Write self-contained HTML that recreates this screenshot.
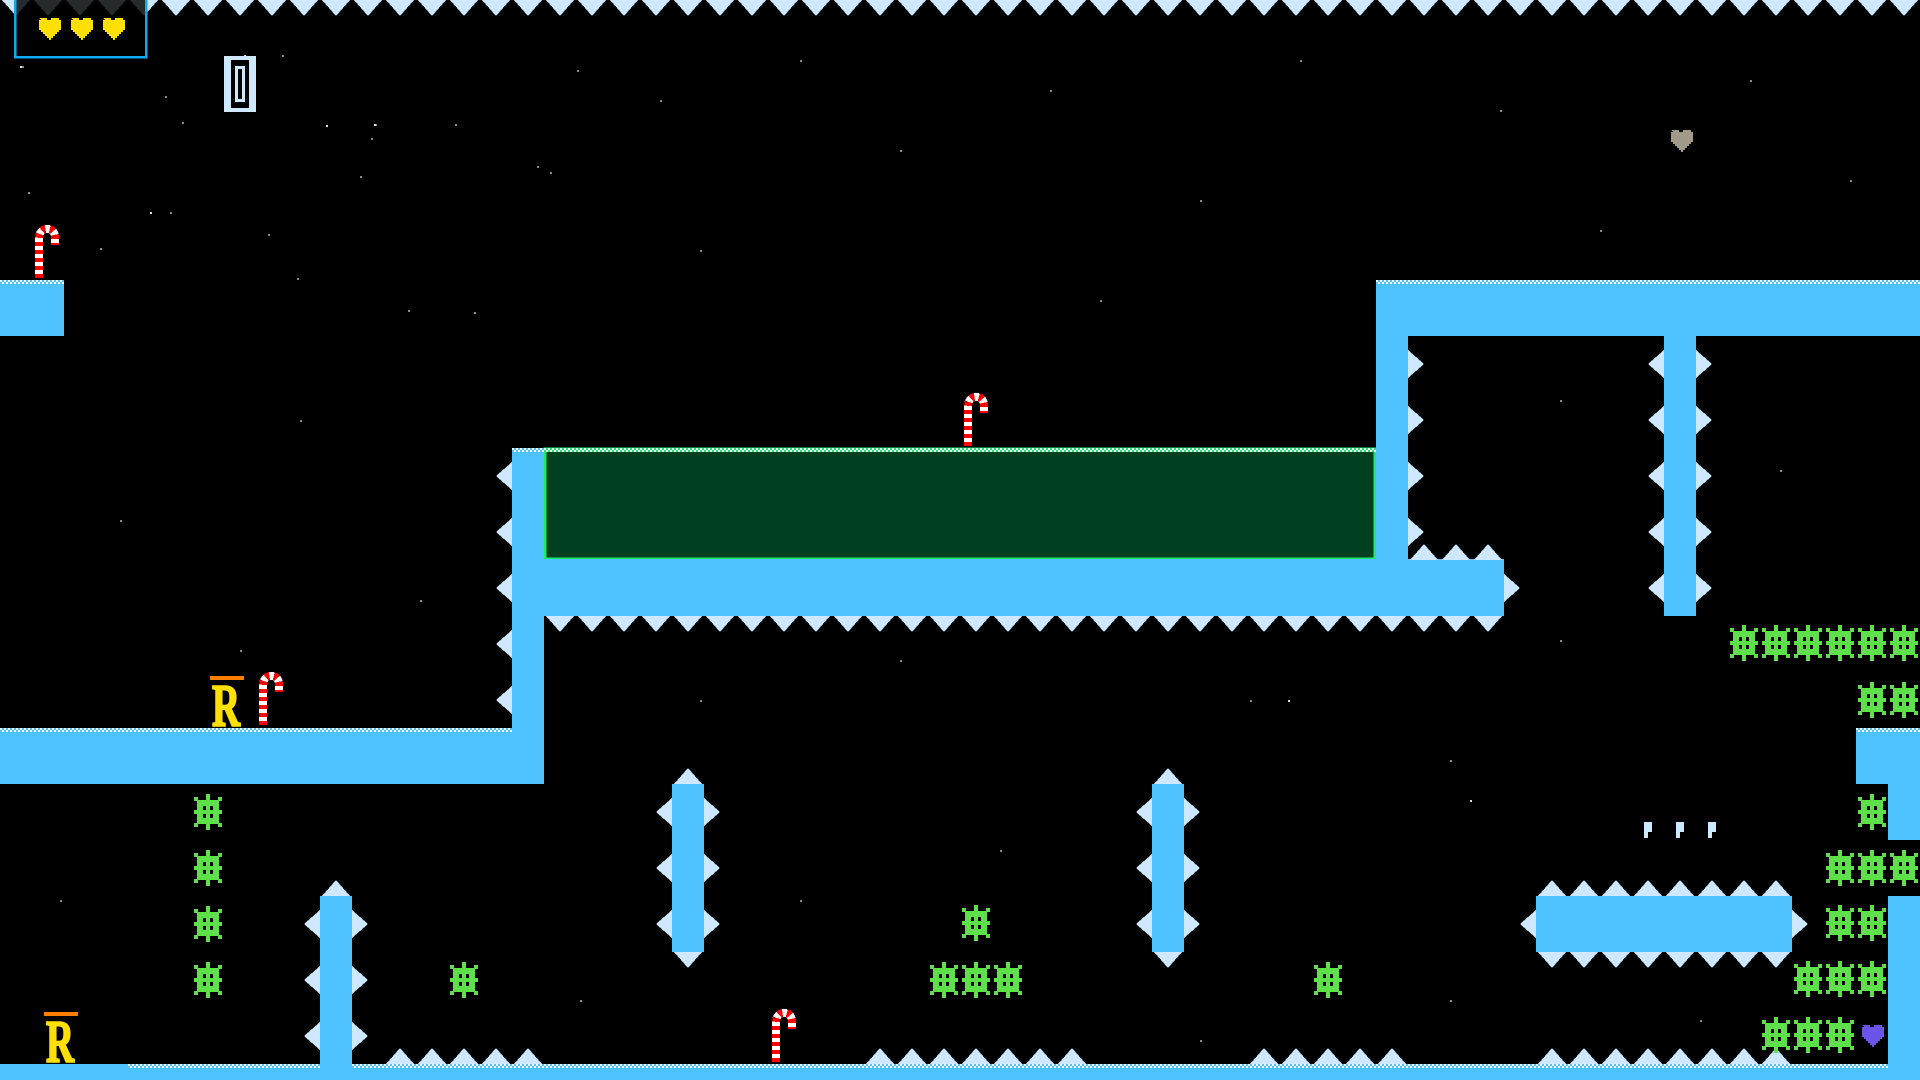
<!DOCTYPE html>
<html><head><meta charset="utf-8"><style>
html,body{margin:0;padding:0;background:#000;width:1920px;height:1080px;overflow:hidden}
svg{display:block}
</style></head><body>
<svg width="1920" height="1080" viewBox="0 0 1920 1080" xmlns="http://www.w3.org/2000/svg" shape-rendering="crispEdges">
<defs>
<pattern id="pd" width="32" height="16" patternUnits="userSpaceOnUse"><polygon points="2,0 30,0 16,16" fill="#cde8ff"/></pattern>
<pattern id="pu" width="32" height="16" patternUnits="userSpaceOnUse"><polygon points="2,16 16,0 30,16" fill="#cde8ff"/></pattern>
<pattern id="ck" width="4" height="4" patternUnits="userSpaceOnUse"><rect width="4" height="4" fill="#4fc3ff"/><rect width="2" height="2" fill="#f2fbff"/><rect x="2" y="2" width="2" height="2" fill="#f2fbff"/></pattern>
<pattern id="ckg" width="4" height="4" patternUnits="userSpaceOnUse"><rect width="4" height="4" fill="#1eea6a"/><rect width="2" height="2" fill="#f2fff6"/><rect x="2" y="2" width="2" height="2" fill="#f2fff6"/></pattern>
<polygon id="sr" points="0,-14 16,0 0,14" fill="#cde8ff"/>
<polygon id="sl" points="0,-14 -16,0 0,14" fill="#cde8ff"/>
<polygon id="su" points="-14,0 0,-16 14,0" fill="#cde8ff"/>
<polygon id="sd" points="-14,0 0,16 14,0" fill="#cde8ff"/>
<g id="g" fill="#5ee04a">
<rect x="-2" y="-18" width="4" height="36"/>
<rect x="-14" y="-2" width="28" height="4"/>
<path d="M-11,-12H11V12H-11Z M-5,-6V6H5V-6Z" fill-rule="evenodd"/>
<rect x="-14" y="-15" width="4" height="4"/><rect x="10" y="-15" width="4" height="4"/>
<rect x="-14" y="11" width="4" height="4"/><rect x="10" y="11" width="4" height="4"/>
</g>
<g id="cane" fill="none" stroke-linecap="butt">
<path d="M9,52 V14 Q9,3 17,3 Q25,3 25,12 V19" stroke="#fff" stroke-width="8"/>
<path d="M9,52 V14 Q9,3 17,3 Q25,3 25,12 V19" stroke="#f00" stroke-width="8" stroke-dasharray="4 4"/>
</g>
<path id="heart" d="M2,0h8v2h4v-2h8v2h2v10h-2v2h-2v2h-2v2h-2v2h-2v2h-2v-2h-2v-2h-2v-2h-2v-2h-2v-2h-2v-10h2z"/>
</defs>

<g fill="#888">
<rect x="22" y="66" width="2" height="2"/><rect x="165" y="96" width="2" height="2"/><rect x="182" y="122" width="2" height="2"/><rect x="282" y="55" width="2" height="2"/><rect x="375" y="124" width="2" height="2"/><rect x="371" y="138" width="2" height="2"/><rect x="455" y="124" width="2" height="2"/><rect x="537" y="166" width="2" height="2"/><rect x="550" y="172" width="2" height="2"/><rect x="577" y="70" width="2" height="2"/><rect x="360" y="176" width="2" height="2"/><rect x="170" y="212" width="2" height="2"/><rect x="28" y="192" width="2" height="2"/><rect x="100" y="248" width="2" height="2"/><rect x="268" y="234" width="2" height="2"/><rect x="297" y="278" width="2" height="2"/><rect x="408" y="310" width="2" height="2"/><rect x="474" y="312" width="2" height="2"/><rect x="660" y="100" width="2" height="2"/><rect x="800" y="60" width="2" height="2"/><rect x="900" y="150" width="2" height="2"/><rect x="1050" y="90" width="2" height="2"/><rect x="1200" y="200" width="2" height="2"/><rect x="1300" y="60" width="2" height="2"/><rect x="1500" y="110" width="2" height="2"/><rect x="1600" y="230" width="2" height="2"/><rect x="1750" y="80" width="2" height="2"/><rect x="1850" y="180" width="2" height="2"/><rect x="700" y="250" width="2" height="2"/><rect x="1100" y="300" width="2" height="2"/><rect x="300" y="420" width="2" height="2"/><rect x="120" y="520" width="2" height="2"/><rect x="420" y="600" width="2" height="2"/><rect x="240" y="650" width="2" height="2"/><rect x="700" y="700" width="2" height="2"/><rect x="900" y="660" width="2" height="2"/><rect x="1250" y="700" width="2" height="2"/><rect x="1450" y="760" width="2" height="2"/><rect x="1560" y="640" width="2" height="2"/><rect x="1780" y="470" width="2" height="2"/><rect x="1560" y="400" width="2" height="2"/><rect x="1000" y="850" width="2" height="2"/><rect x="800" y="900" width="2" height="2"/><rect x="580" y="1000" width="2" height="2"/><rect x="1200" y="1040" width="2" height="2"/><rect x="1450" y="1000" width="2" height="2"/><rect x="60" y="900" width="2" height="2"/><rect x="1700" y="1020" width="2" height="2"/>
</g>
<g fill="#ddd">
<rect x="20" y="66" width="2" height="2"/><rect x="244" y="55" width="2" height="2"/><rect x="326" y="125" width="2" height="2"/><rect x="374" y="124" width="2" height="2"/><rect x="150" y="212" width="2" height="2"/><rect x="1288" y="700" width="2" height="2"/><rect x="1470" y="800" width="2" height="2"/>
</g>

<rect x="0" y="0" width="1920" height="16" fill="url(#pd)"/>

<rect x="545" y="449" width="830" height="110" fill="#004020" stroke="#1eea6a" stroke-width="3"/>
<rect x="544" y="448" width="832" height="4" fill="url(#ckg)"/>

<g fill="#4fc3ff">
<rect x="0" y="280" width="64" height="56"/>
<rect x="512" y="448" width="32" height="336"/>
<rect x="512" y="559" width="992" height="57"/>
<rect x="1376" y="280" width="32" height="280"/>
<rect x="1376" y="280" width="544" height="56"/>
<rect x="1664" y="336" width="32" height="280"/>
<rect x="0" y="728" width="544" height="56"/>
<rect x="0" y="1064" width="1920" height="16"/>
<rect x="320" y="896" width="32" height="184"/>
<rect x="672" y="784" width="32" height="168"/>
<rect x="1152" y="784" width="32" height="168"/>
<rect x="1536" y="896" width="256" height="56"/>
<rect x="1856" y="728" width="64" height="56"/>
<rect x="1888" y="784" width="32" height="56"/>
<rect x="1888" y="896" width="32" height="184"/>
</g>
<rect x="0" y="280" width="64" height="4" fill="url(#ck)"/>
<rect x="512" y="448" width="32" height="4" fill="url(#ck)"/>
<rect x="1376" y="280" width="544" height="4" fill="url(#ck)"/>
<rect x="0" y="728" width="512" height="4" fill="url(#ck)"/>
<rect x="1856" y="728" width="64" height="4" fill="url(#ck)"/>
<rect x="128" y="1064" width="192" height="4" fill="url(#ck)"/>
<rect x="352" y="1064" width="1536" height="4" fill="url(#ck)"/>

<rect x="544" y="0" width="960" height="16" fill="url(#pd)" transform="translate(0,616)"/>
<rect x="1408" y="0" width="96" height="16" fill="url(#pu)" transform="translate(0,544)"/>
<rect x="1536" y="0" width="256" height="16" fill="url(#pu)" transform="translate(0,880)"/>
<rect x="1536" y="0" width="256" height="16" fill="url(#pd)" transform="translate(0,952)"/>
<g transform="translate(0,1048)">
<rect x="384" y="0" width="160" height="16" fill="url(#pu)"/>
<rect x="864" y="0" width="224" height="16" fill="url(#pu)"/>
<rect x="1248" y="0" width="160" height="16" fill="url(#pu)"/>
<rect x="1536" y="0" width="256" height="16" fill="url(#pu)"/>
</g>

<use href="#sl" x="512" y="476"/><use href="#sl" x="512" y="532"/><use href="#sl" x="512" y="588"/><use href="#sl" x="512" y="644"/><use href="#sl" x="512" y="700"/>
<use href="#sr" x="1408" y="364"/><use href="#sr" x="1408" y="420"/><use href="#sr" x="1408" y="476"/><use href="#sr" x="1408" y="532"/>
<use href="#sr" x="1504" y="588"/>
<use href="#sl" x="1664" y="364"/><use href="#sl" x="1664" y="420"/><use href="#sl" x="1664" y="476"/><use href="#sl" x="1664" y="532"/><use href="#sl" x="1664" y="588"/>
<use href="#sr" x="1696" y="364"/><use href="#sr" x="1696" y="420"/><use href="#sr" x="1696" y="476"/><use href="#sr" x="1696" y="532"/><use href="#sr" x="1696" y="588"/>
<use href="#su" x="336" y="896"/>
<use href="#sl" x="320" y="924"/><use href="#sl" x="320" y="980"/><use href="#sl" x="320" y="1036"/>
<use href="#sr" x="352" y="924"/><use href="#sr" x="352" y="980"/><use href="#sr" x="352" y="1036"/>
<use href="#su" x="688" y="784"/><use href="#sd" x="688" y="952"/>
<use href="#sl" x="672" y="812"/><use href="#sl" x="672" y="868"/><use href="#sl" x="672" y="924"/>
<use href="#sr" x="704" y="812"/><use href="#sr" x="704" y="868"/><use href="#sr" x="704" y="924"/>
<use href="#su" x="1168" y="784"/><use href="#sd" x="1168" y="952"/>
<use href="#sl" x="1152" y="812"/><use href="#sl" x="1152" y="868"/><use href="#sl" x="1152" y="924"/>
<use href="#sr" x="1184" y="812"/><use href="#sr" x="1184" y="868"/><use href="#sr" x="1184" y="924"/>
<use href="#sl" x="1536" y="924"/><use href="#sr" x="1792" y="924"/>

<use href="#g" x="208" y="812"/><use href="#g" x="208" y="868"/><use href="#g" x="208" y="924"/><use href="#g" x="208" y="980"/>
<use href="#g" x="464" y="980"/>
<use href="#g" x="976" y="923"/><use href="#g" x="944" y="980"/><use href="#g" x="976" y="980"/><use href="#g" x="1008" y="980"/>
<use href="#g" x="1328" y="980"/>
<use href="#g" x="1744" y="643"/><use href="#g" x="1776" y="643"/><use href="#g" x="1808" y="643"/><use href="#g" x="1840" y="643"/><use href="#g" x="1872" y="643"/><use href="#g" x="1904" y="643"/>
<use href="#g" x="1872" y="700"/><use href="#g" x="1904" y="700"/>
<use href="#g" x="1872" y="812"/>
<use href="#g" x="1840" y="868"/><use href="#g" x="1872" y="868"/><use href="#g" x="1904" y="868"/>
<use href="#g" x="1840" y="923"/><use href="#g" x="1872" y="923"/>
<use href="#g" x="1808" y="979"/><use href="#g" x="1840" y="979"/><use href="#g" x="1872" y="979"/>
<use href="#g" x="1776" y="1035"/><use href="#g" x="1808" y="1035"/><use href="#g" x="1840" y="1035"/>

<use href="#cane" x="30" y="226"/>
<use href="#cane" x="959" y="394"/>
<use href="#cane" x="254" y="673"/>
<use href="#cane" x="767" y="1010"/>

<rect x="210" y="676" width="34" height="4" fill="#ff8000"/>
<text x="212" y="726" font-family="Liberation Serif, serif" font-weight="bold" font-size="60" fill="#ffe000" stroke="#ffe000" stroke-width="2" textLength="28" lengthAdjust="spacingAndGlyphs">R</text>
<rect x="44" y="1012" width="34" height="4" fill="#ff8000"/>
<text x="46" y="1062" font-family="Liberation Serif, serif" font-weight="bold" font-size="60" fill="#ffe000" stroke="#ffe000" stroke-width="2" textLength="28" lengthAdjust="spacingAndGlyphs">R</text>

<g fill="#cde8ff">
<rect x="1644" y="822" width="8" height="10"/><rect x="1644" y="832" width="4" height="6"/>
<rect x="1676" y="822" width="8" height="10"/><rect x="1676" y="832" width="4" height="6"/>
<rect x="1708" y="822" width="8" height="10"/><rect x="1708" y="832" width="4" height="6"/>
</g>

<use href="#heart" x="1669" y="130" fill="#a09a88"/>
<use href="#heart" x="1860" y="1025" fill="#6a55e8"/>

<rect x="224" y="56" width="32" height="56" fill="#cde8ff"/>
<rect x="231" y="60" width="18" height="48" fill="#000"/>
<rect x="235" y="66" width="10" height="36" fill="#cde8ff"/>
<rect x="238" y="69" width="4" height="30" fill="#000"/>

<rect x="15" y="-2" width="131" height="59" fill="rgba(0,0,0,0.82)" stroke="#12a8f5" stroke-width="2.5"/>
<use href="#heart" x="37" y="18" fill="#ffe000"/>
<use href="#heart" x="69" y="18" fill="#ffe000"/>
<use href="#heart" x="101" y="18" fill="#ffe000"/>
</svg>
</body></html>
